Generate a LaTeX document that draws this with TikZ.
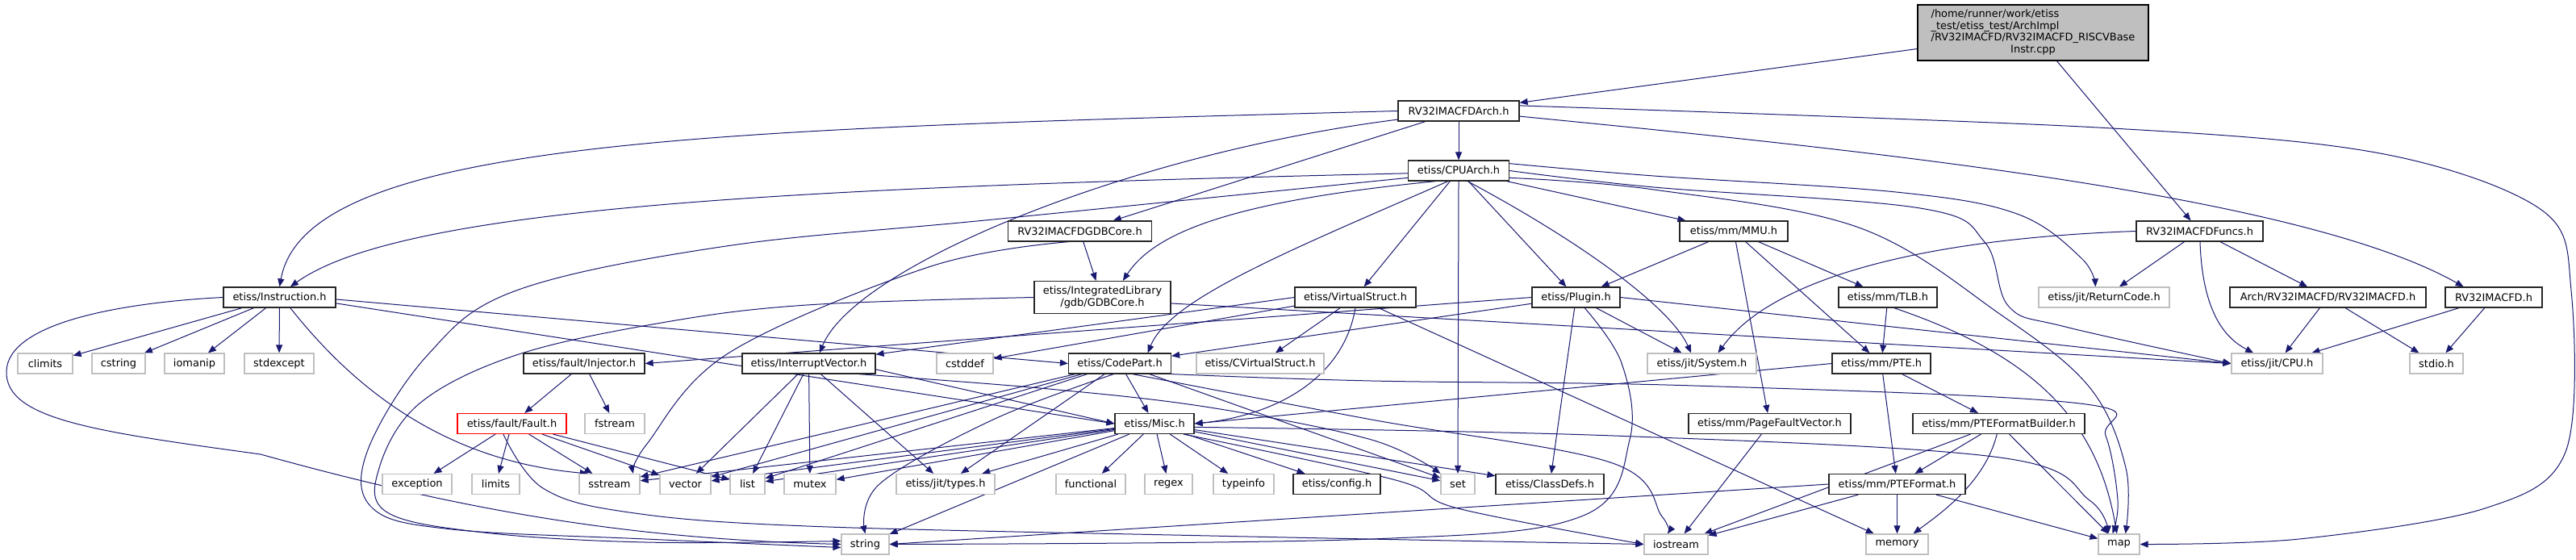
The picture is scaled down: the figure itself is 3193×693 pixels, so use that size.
\documentclass[tikz,border=0pt]{standalone}
\usepackage{fontspec}
\setmainfont{DejaVu Sans}
\usetikzlibrary{arrows.meta}
\definecolor{edgec}{HTML}{191970}
\definecolor{lgray}{HTML}{BFBFBF}
\definecolor{rootfill}{HTML}{BFBFBF}
\pgfdeclarelayer{edgelayer}
\pgfsetlayers{edgelayer,main}
\begin{document}
\begin{tikzpicture}[x=0.75pt,y=-0.75pt,
  bw/.style={minimum width=#1*0.75pt},
  box/.style={rectangle, inner sep=0pt, minimum height=25*0.75pt, fill=white,
    font=\fontsize{9.7pt}{11pt}\selectfont, text=black, align=center},
  nb/.style={box, draw=black!85, line width=0.9pt},
  ng/.style={box, draw=lgray, line width=0.9pt},
  nr/.style={box, draw=red, line width=0.9pt},
  nroot/.style={box, draw=black, fill=rootfill, line width=0.9pt},
  ed/.style={draw=edgec, line width=0.75pt, -{Triangle[length=7.5pt,width=6pt]}}
]
\useasboundingbox (0,0) rectangle (3193,693);
\begin{pgfonlayer}{edgelayer}
\fill[white] (0,0) rectangle (3193,693);
\end{pgfonlayer}

% ---------- nodes ----------
\node[nroot, bw=286, minimum height=69*0.75pt] (R) at (2520,40.5)
  {\begin{tabular}{@{}l@{}}/home/runner/work/etiss\\\_test/etiss\_test/ArchImpl\\/RV32IMACFD/RV32IMACFD\_RISCVBase\\\multicolumn{1}{@{}c@{}}{Instr.cpp}\end{tabular}};
\node[nb,bw=150] (A) at (1808,137.5) {RV32IMACFDArch.h};
\node[nb,bw=125] (C) at (1808,211.5) {etiss/CPUArch.h};
\node[nb,bw=178] (G) at (1338.5,286.5) {RV32IMACFDGDBCore.h};
\node[nb,bw=134] (MMU) at (2149,286.5) {etiss/mm/MMU.h};
\node[nb,bw=157] (F) at (2726.5,286.5) {RV32IMACFDFuncs.h};
\node[nb,bw=139] (I) at (346.5,368.5) {etiss/Instruction.h};
\node[nb,bw=169,minimum height=40*0.75pt] (GL) at (1366.5,368.5) {etiss/IntegratedLibrary\\/gdb/GDBCore.h};
\node[nb,bw=150] (VS) at (1680,368.5) {etiss/VirtualStruct.h};
\node[nb,bw=109] (P) at (1953.5,368.5) {etiss/Plugin.h};
\node[nb,bw=122] (TLB) at (2340,368.5) {etiss/mm/TLB.h};
\node[ng,bw=162] (RC) at (2608,368.5) {etiss/jit/ReturnCode.h};
\node[nb,bw=243] (AR) at (2885.5,368.5) {Arch/RV32IMACFD/RV32IMACFD.h};
\node[nb,bw=120] (RV) at (3091,368.5) {RV32IMACFD.h};

\node[ng,bw=68] (climits) at (56,450.5) {climits};
\node[ng,bw=66] (cstring) at (147,450.5) {cstring};
\node[ng,bw=74] (iomanip) at (241,450.5) {iomanip};
\node[ng,bw=86] (stdexcept) at (346,450.5) {stdexcept};
\node[nb,bw=150] (INJ) at (724,450.5) {etiss/fault/Injector.h};
\node[nb,bw=165] (IV) at (1002.5,450.5) {etiss/InterruptVector.h};
\node[ng,bw=70] (cstddef) at (1196,450.5) {cstddef};
\node[nb,bw=127] (CP) at (1388,450.5) {etiss/CodePart.h};
\node[ng,bw=158] (CVS) at (1562,450.5) {etiss/CVirtualStruct.h};
\node[ng,bw=135] (SYS) at (2109.5,450.5) {etiss/jit/System.h};
\node[nb,bw=122] (PTE) at (2332,450.5) {etiss/mm/PTE.h};
\node[ng,bw=113] (CPU) at (2822.5,450.5) {etiss/jit/CPU.h};
\node[ng,bw=66] (stdio) at (3020,450.5) {stdio.h};

\node[nr,bw=135] (FAULT) at (634.5,525) {etiss/fault/Fault.h};
\node[ng,bw=74] (fstream) at (762,525) {fstream};
\node[nb,bw=98] (Misc) at (1431,525) {etiss/Misc.h};
\node[nb,bw=201] (PFV) at (2193.5,525) {etiss/mm/PageFaultVector.h};
\node[nb,bw=213] (PFB) at (2477.5,525) {etiss/mm/PTEFormatBuilder.h};

\node[ng,bw=86] (exception) at (517,600) {exception};
\node[ng,bw=59] (limits) at (614.5,600) {limits};
\node[ng,bw=75] (sstream) at (755.5,600) {sstream};
\node[ng,bw=63] (vector) at (849.5,600) {vector};
\node[ng,bw=43] (list) at (926.5,600) {list};
\node[ng,bw=64] (mutex) at (1004,600) {mutex};
\node[ng,bw=122] (types) at (1172,600) {etiss/jit/types.h};
\node[ng,bw=86] (functional) at (1352,600) {functional};
\node[ng,bw=59] (regex) at (1448.5,600) {regex};
\node[ng,bw=75] (typeinfo) at (1541.5,600) {typeinfo};
\node[nb,bw=108] (config) at (1657,600) {etiss/config.h};
\node[ng,bw=42] (set) at (1807,600) {set};
\node[nb,bw=134] (ClassDefs) at (1921,600) {etiss/ClassDefs.h};
\node[nb,bw=169] (PTEF) at (2351.5,600) {etiss/mm/PTEFormat.h};

\node[ng,bw=59] (string) at (1072.5,674.5) {string};
\node[ng,bw=79] (iostream) at (2077.5,674.5) {iostream};
\node[ng,bw=77] (memory) at (2351.5,674.5) {memory};
\node[ng,bw=51] (map) at (2626.5,674.5) {map};

% ---------- edges ----------
\begin{pgfonlayer}{edgelayer}
% root
\draw[ed] ([yshift=-15pt]R.west) -- (A);
\draw[ed] (R) -- (F);
% Arch
\draw[ed] (A) -- (C);
\draw[ed] (A) -- (G);
\draw[ed] (A.west) .. controls (900,160) and (380,170) .. (I.north);
\draw[ed] (A.188) .. controls (1400,190) and (1060,330) .. ([xshift=10pt]IV.north);
\draw[ed] (A.-5) .. controls (2300,185) and (2850,240) .. ([xshift=-28pt]RV.north);
\draw[ed] plot[smooth,tension=0.55] coordinates {(A.5) (2600,158) (2950,190) (3150,260) (3187,360) (3180,560) (3080,630) (2850,668) (map.east)};
% CPUArch
\draw[ed] (C.183) .. controls (1000,232) and (500,255) .. ([xshift=10pt]I.north);
\draw[ed] plot[smooth,tension=0.6] coordinates {(C.188) (1231,272) (900,305) (640,360) (530,440) (455,560) (462,630) (560,656) (800,668) ([yshift=-3pt]string.west)};
\draw[ed] (C.205) .. controls (1520,250) and (1430,290) .. ([xshift=19pt]GL.north);
\draw[ed] (C.225) .. controls (1600,310) and (1450,370) .. ([xshift=26pt]CP.north);
\draw[ed] (C) -- (VS);
\draw[ed] (C.south) -- (set.north);
\draw[ed] (C) -- (P);
\draw[ed] (C.-50) .. controls (1960,300) and (2070,380) .. ([xshift=-10pt]SYS.north);
\draw[ed] (C) -- (MMU);
\draw[ed] plot[smooth,tension=0.6] coordinates {(C.8) (2050,218) (2350,238) (2500,265) (2580,320) ([xshift=-8pt]RC.north)};
\draw[ed] plot[smooth,tension=0.6] coordinates {(C.0) (2050,232) (2380,258) (2460,300) (2490,380) (2560,405) (CPU.west)};
\draw[ed] plot[smooth,tension=0.6] coordinates {(C.-8) (2050,235) (2304,282) (2480,390) (2590,480) (2635,580) ([xshift=6pt]map.north)};
% GDBCore
\draw[ed] (G) -- ([xshift=-6pt]GL.north);
\draw[ed] plot[smooth,tension=0.6] coordinates {(G.225) (1154,330) (904,437) (802,550) ([xshift=22pt]sstream.north)};
\draw[ed] plot[smooth,tension=0.6] coordinates {(GL.west) (1000,378) (820,400) (640,440) (520,500) (470,580) (480,635) (600,660) (800,672) ([yshift=3pt]string.west)};
\draw[ed] (GL.-5) -- (CPU.west);
% VirtualStruct
\draw[ed] (VS.west) -- (IV);
\draw[ed] (VS.188) -- (cstddef);
\draw[ed] (VS) -- (CVS);
\draw[ed] (VS.south) .. controls (1665,470) and (1580,515) .. (Misc.east);
\draw[ed] (VS) -- (memory);
% Plugin
\draw[ed] (P.west) -- (INJ.east);
\draw[ed] (P.188) -- (CP);
\draw[ed] (P) -- (SYS);
\draw[ed] (P.east) -- (CPU.west);
\draw[ed] (P) -- (ClassDefs);
\draw[ed] plot[smooth,tension=0.6] coordinates {([xshift=8pt]P.south) (2010,450) (2020,545) (1960,640) (1700,668) (string.east)};
% MMU
\draw[ed] (MMU) -- (P);
\draw[ed] (MMU) -- (TLB);
\draw[ed] (MMU) -- (PTE);
\draw[ed] (MMU) -- (PFV);
% Funcs
\draw[ed] (F.west) .. controls (2400,295) and (2200,340) .. ([xshift=15pt]SYS.north);
\draw[ed] (F) -- (RC);
\draw[ed] (F) -- (AR);
\draw[ed] (F.-88) .. controls (2730,390) and (2760,420) .. ([xshift=-22pt]CPU.north);
% TLB
\draw[ed] (TLB) -- (PTE);
\draw[ed] (TLB.-60) .. controls (2520,440) and (2600,520) .. ([xshift=-2pt]map.north);
% Arch headers
\draw[ed] (AR) -- (CPU);
\draw[ed] (AR) -- (stdio);
\draw[ed] (RV) -- (CPU);
\draw[ed] (RV) -- (stdio);
% Instruction
\draw[ed] (I) -- (climits);
\draw[ed] (I) -- (cstring);
\draw[ed] (I) -- (iomanip);
\draw[ed] (I) -- (stdexcept);
\draw[ed] ([xshift=10pt]I.south) .. controls (430,470) and (540,570) .. ([xshift=-20pt]sstream.north);
\draw[ed] (I.-2) -- (CP.west);
\draw[ed] (I.-6) -- (Misc.west);
\draw[ed] (I.west) .. controls (150,375) and (10,400) .. (8,460)
  .. controls (6,520) and (120,535) .. (323,563)
  .. controls (600,640) and (800,668) .. (string.west);
% Injector / Fault
\draw[ed] (INJ) -- (FAULT);
\draw[ed] (INJ) -- (fstream);
\draw[ed] (FAULT) -- (exception);
\draw[ed] (FAULT) -- (limits);
\draw[ed] (FAULT) -- (sstream);
\draw[ed] (FAULT) -- (vector);
\draw[ed] (FAULT) -- (list);
\draw[ed] plot[smooth,tension=0.6] coordinates {([xshift=-8pt]FAULT.south) (673,605) (780,635) (1000,652) (1500,664) (iostream.west)};
% InterruptVector
\draw[ed] (IV) -- (vector);
\draw[ed] (IV) -- (list);
\draw[ed] (IV) -- (mutex);
\draw[ed] (IV) -- (types);
\draw[ed] (IV.-5) -- (Misc.west);
\draw[ed] plot[smooth,tension=0.6] coordinates {(IV.-12) (1300,482) (1500,505) (1700,545) (set.north west)};
% CodePart
\draw[ed] (CP) -- (Misc);
\draw[ed] (CP) -- (types);
\draw[ed] (CP) -- (set);
\draw[ed] (CP) -- (sstream);
\draw[ed] (CP) -- (vector);
\draw[ed] (CP) -- (list);
\draw[ed] plot[smooth,tension=0.6] coordinates {(CP.240) (1231,520) (1090,600) (string.north)};
\draw[ed] plot[smooth,tension=0.6] coordinates {(CP.-40) (1700,520) (1996,573) (2060,640) ([xshift=-8pt]iostream.north)};
\draw[ed] plot[smooth,tension=0.6] coordinates {(CP.south east) (1700,472) (2100,478) (2578,500) (2610,540) (2625,620) ([xshift=-6pt]map.north)};
% Misc
\draw[ed] (Misc) -- (mutex);
\draw[ed] (Misc) -- (types);
\draw[ed] (Misc) -- (functional);
\draw[ed] (Misc) -- (regex);
\draw[ed] (Misc) -- (typeinfo);
\draw[ed] (Misc) -- (config);
\draw[ed] (Misc) -- (set);
\draw[ed] (Misc) -- (ClassDefs);
\draw[ed] (Misc) -- (string);
\draw[ed] (Misc) -- (sstream);
\draw[ed] (Misc) -- (vector);
\draw[ed] (Misc) -- (list);
\draw[ed] plot[smooth,tension=0.6] coordinates {(Misc.-20) (1730,595) (1807,630) (iostream.west)};
\draw[ed] plot[smooth,tension=0.6] coordinates {(Misc.-5) (2000,540) (2479,567) (2590,620) ([xshift=-10pt]map.north)};
% PTE
\draw[ed] (PTE.west) -- (Misc.east);
\draw[ed] (PTE) -- (PTEF);
\draw[ed] (PTE) -- (PFB);
% PageFaultVector
\draw[ed] (PFV) -- (iostream);
% PTEFormatBuilder
\draw[ed] (PFB) -- (iostream);
\draw[ed] (PFB) -- (PTEF);
\draw[ed] (PFB.-100) .. controls (2460,600) and (2400,640) .. ([xshift=15pt]memory.north);
\draw[ed] (PFB) -- (map);
% PTEFormat
\draw[ed] (PTEF.west) -- (string.east);
\draw[ed] (PTEF) -- (iostream);
\draw[ed] (PTEF) -- (memory);
\draw[ed] (PTEF) -- (map);
\end{pgfonlayer}
\end{tikzpicture}
\end{document}
